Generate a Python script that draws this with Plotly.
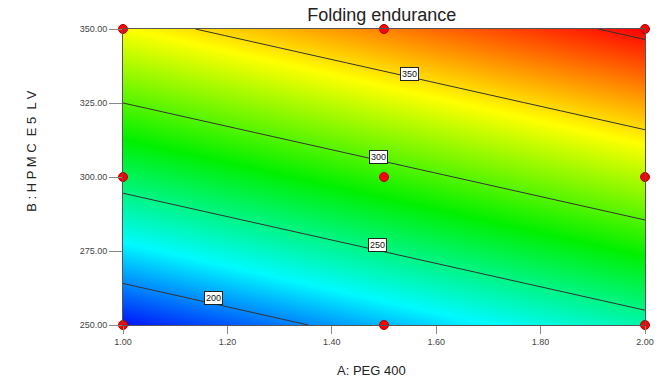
import plotly.graph_objects as go

# Design points / factor levels
peg_levels = [1.00, 1.50, 2.00]          # A: PEG 400
hpmc_levels = [250.0, 300.0, 350.0]      # B: HPMC E5 LV
# Folding endurance read at the design points (rows = HPMC level, cols = PEG level)
folding = [
    [177.0, 209.4, 241.8],
    [259.0, 291.4, 323.8],
    [341.0, 373.4, 405.8],
]
contour_levels = [200, 250, 300, 350, 400]
# contour label positions (A, B) and text
label_text = ["200", "250", "300", "350"]
label_a = [1.174, 1.487, 1.489, 1.548]
label_b = [259.0, 277.0, 306.8, 334.8]

x_ticks = [1.0, 1.2, 1.4, 1.6, 1.8, 2.0]
y_ticks = [250, 275, 300, 325, 350]

design_a = [a for b in hpmc_levels for a in peg_levels]
design_b = [b for b in hpmc_levels for a in peg_levels]

colorscale = [
    [0.0, "rgb(0,20,250)"],
    [0.2, "rgb(0,250,255)"],
    [0.45, "rgb(0,240,0)"],
    [0.72, "rgb(255,255,0)"],
    [1.0, "rgb(255,0,0)"],
]

fig = go.Figure()
fig.add_trace(go.Contour(
    x=peg_levels, y=hpmc_levels, z=folding,
    colorscale=colorscale, zauto=False, zmin=177, zmax=406,
    showscale=False,
    contours=dict(start=contour_levels[0], end=contour_levels[-1], size=50,
                  coloring="heatmap", showlabels=False),
    line=dict(color="#333333", width=1),
    hoverinfo="skip",
))
fig.add_trace(go.Scatter(
    x=design_a, y=design_b, mode="markers",
    marker=dict(symbol="circle", size=9, color="#ff0000",
                line=dict(color="#b00000", width=1)),
    cliponaxis=False, showlegend=False, hoverinfo="skip",
))

for t, a, b in zip(label_text, label_a, label_b):
    fig.add_annotation(x=a, y=b, text=t, showarrow=False,
                       font=dict(family="Liberation Sans, Arial", size=9, color="#111"),
                       bgcolor="white", bordercolor="#222", borderwidth=1, borderpad=1)

fig.add_annotation(xref="paper", yref="paper", x=-0.1935, y=0.59,
                   text="B : H P M C  E 5  L V", textangle=-90, showarrow=False,
                   font=dict(family="Liberation Sans, Arial", size=13, color="#222"))
fig.add_annotation(xref="paper", yref="paper", x=0.477, y=-0.186,
                   text="A: PEG 400", showarrow=False,
                   font=dict(family="Liberation Sans, Arial", size=13, color="#222"))

fig.update_layout(
    width=665, height=389,
    margin=dict(l=123, r=20, t=29, b=64),
    paper_bgcolor="white", plot_bgcolor="white",
    title=dict(text="Folding endurance", x=0.574, xanchor="center", y=0.962, yanchor="middle",
               font=dict(family="Liberation Sans, Arial", size=18, color="#222")),
    showlegend=False,
    xaxis=dict(range=[1, 2], tickvals=x_ticks, ticktext=[f"{v:.2f}" for v in x_ticks],
               ticks="outside", ticklen=8, tickcolor="#888", tickwidth=1,
               tickfont=dict(family="Liberation Sans, Arial", size=9, color="#444"),
               showline=True, linecolor="#555", linewidth=1, mirror=True,
               showgrid=False, zeroline=False),
    yaxis=dict(range=[250, 350], tickvals=y_ticks, ticktext=[f"{v:.2f}" for v in y_ticks],
               ticks="outside", ticklen=13, tickcolor="#888", tickwidth=1,
               tickfont=dict(family="Liberation Sans, Arial", size=9, color="#444"),
               showline=True, linecolor="#555", linewidth=1, mirror=True,
               showgrid=False, zeroline=False),
)

fig.write_html("out.html")
